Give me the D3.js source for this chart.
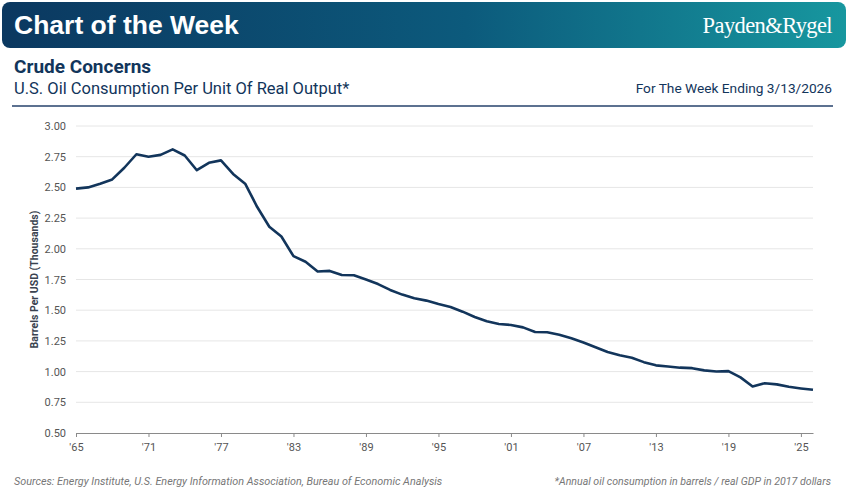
<!DOCTYPE html>
<html>
<head>
<meta charset="utf-8">
<script src="https://cdn.jsdelivr.net/npm/d3@7"></script>
<style>
  body { margin: 0; background: #fff; }
  svg { display: block; }
</style>
</head>
<body>
<div id="chart"></div>
<script>
// barrels per USD (thousands)
var years = d3.range(1965, 2027);
var values = [
  2.49, 2.50, 2.53, 2.565, 2.66, 2.77, 2.75, 2.765, 2.81, 2.76,
  2.64, 2.70, 2.72, 2.61, 2.53, 2.34, 2.18, 2.10, 1.94, 1.895,
  1.815, 1.82, 1.787, 1.785, 1.75, 1.713, 1.665, 1.627, 1.597, 1.578,
  1.55, 1.526, 1.488, 1.445, 1.41, 1.388, 1.38, 1.36, 1.323, 1.32,
  1.30, 1.271, 1.237, 1.198, 1.159, 1.133, 1.113, 1.077, 1.051, 1.041,
  1.032, 1.028, 1.010, 1.001, 1.004, 0.953, 0.879, 0.905, 0.896, 0.876,
  0.863, 0.852
];
var yTicks = [0.50, 0.75, 1.00, 1.25, 1.50, 1.75, 2.00, 2.25, 2.50, 2.75, 3.00];
var xTicks = d3.range(1965, 2026, 6);

var W = 849, H = 489;
var margin = {top: 126, right: 36, bottom: 56, left: 76};
var width = W - margin.left - margin.right,
    height = H - margin.top - margin.bottom;

var navy = "#12355b";

var svg = d3.select("#chart").append("svg")
    .attr("width", W)
    .attr("height", H);

// header banner
var grad = svg.append("defs").append("linearGradient")
    .attr("id", "hdr").attr("x1", "0%").attr("x2", "100%");
grad.append("stop").attr("offset", "0%").attr("stop-color", "#0b3860");
grad.append("stop").attr("offset", "55%").attr("stop-color", "#0c5a7c");
grad.append("stop").attr("offset", "100%").attr("stop-color", "#17979f");

svg.append("rect")
    .attr("x", 2).attr("y", 2)
    .attr("width", 844).attr("height", 46)
    .attr("rx", 8)
    .style("fill", "url(#hdr)");

svg.append("text")
    .attr("x", 14).attr("y", 34)
    .style("font-family", "Liberation Sans, Arial, sans-serif")
    .style("font-weight", "bold")
    .style("font-size", "26.5px")
    .style("fill", "#fff")
    .text("Chart of the Week");

svg.append("text")
    .attr("x", 832).attr("y", 33)
    .attr("text-anchor", "end")
    .style("font-family", "Liberation Serif, serif")
    .style("font-size", "22.5px")
    .style("letter-spacing", "-0.6px")
    .style("fill", "#fff")
    .text("Payden&Rygel");

// titles
svg.append("text")
    .attr("x", 14).attr("y", 73)
    .style("font-family", "Roboto, sans-serif")
    .style("font-weight", "bold")
    .style("font-size", "19px")
    .style("fill", navy)
    .text("Crude Concerns");

svg.append("text")
    .attr("x", 14).attr("y", 94)
    .style("font-family", "Roboto, sans-serif")
    .style("font-size", "16.5px")
    .style("fill", navy)
    .text("U.S. Oil Consumption Per Unit Of Real Output*");

svg.append("text")
    .attr("x", 832).attr("y", 93)
    .attr("text-anchor", "end")
    .style("font-family", "Roboto, sans-serif")
    .style("font-size", "13.7px")
    .style("fill", navy)
    .text("For The Week Ending 3/13/2026");

svg.append("line")
    .attr("x1", 12).attr("x2", 833)
    .attr("y1", 106).attr("y2", 106)
    .style("stroke", "#5c7190")
    .style("stroke-width", 2);

var g = svg.append("g").attr("transform", "translate(" + margin.left + "," + margin.top + ")");

var x = d3.scaleLinear().domain([1965, 2026]).range([0, width]);
var y = d3.scaleLinear().domain([0.5, 3.0]).range([height, 0]);

// gridlines
g.append("g")
    .selectAll("line")
    .data(yTicks.slice(1))
    .enter().append("line")
    .attr("x1", 0).attr("x2", width)
    .attr("y1", function (d) { return y(d); })
    .attr("y2", function (d) { return y(d); })
    .style("stroke", "#e6e6e6")
    .style("stroke-width", 1);

// y axis labels
var yAxis = g.append("g")
    .call(d3.axisLeft(y).tickValues(yTicks).tickFormat(d3.format(".2f")).tickSize(0).tickPadding(10));
yAxis.select(".domain").remove();
yAxis.selectAll("text")
    .style("font-family", "Roboto, sans-serif")
    .style("font-size", "11px")
    .style("fill", "#555");

// x axis
var xAxis = g.append("g")
    .attr("transform", "translate(0," + height + ")")
    .call(d3.axisBottom(x).tickValues(xTicks)
        .tickFormat(function (d) { return "'" + String(d).slice(2); })
        .tickSizeOuter(0).tickSizeInner(4).tickPadding(6));
xAxis.select(".domain").style("stroke", "#8a8a8a");
xAxis.selectAll(".tick line").style("stroke", "#8a8a8a");
xAxis.selectAll("text")
    .style("font-family", "Roboto, sans-serif")
    .style("font-size", "11px")
    .style("fill", "#555");

g.append("text")
    .attr("transform", "rotate(-90)")
    .attr("x", -height / 2)
    .attr("y", -38)
    .attr("text-anchor", "middle")
    .style("font-family", "Roboto, sans-serif")
    .style("font-weight", "bold")
    .style("font-size", "10.5px")
    .style("fill", "#3a4350")
    .text("Barrels Per USD (Thousands)");

// series
var line = d3.line()
    .x(function (d, i) { return x(years[i]); })
    .y(function (d) { return y(d); });

g.append("path")
    .datum(values)
    .attr("d", line)
    .style("fill", "none")
    .style("stroke", navy)
    .style("stroke-width", 2.6)
    .style("stroke-linejoin", "round");

// footer
svg.append("text")
    .attr("x", 14).attr("y", 485)
    .style("font-family", "Roboto, sans-serif")
    .style("font-style", "italic")
    .style("font-size", "10.8px")
    .style("fill", "#777")
    .text("Sources: Energy Institute, U.S. Energy Information Association, Bureau of Economic Analysis");

svg.append("text")
    .attr("x", 831).attr("y", 485)
    .attr("text-anchor", "end")
    .style("font-family", "Roboto, sans-serif")
    .style("font-style", "italic")
    .style("font-size", "10.6px")
    .style("fill", "#777")
    .text("*Annual oil consumption in barrels / real GDP in 2017 dollars");
</script>
</body>
</html>
